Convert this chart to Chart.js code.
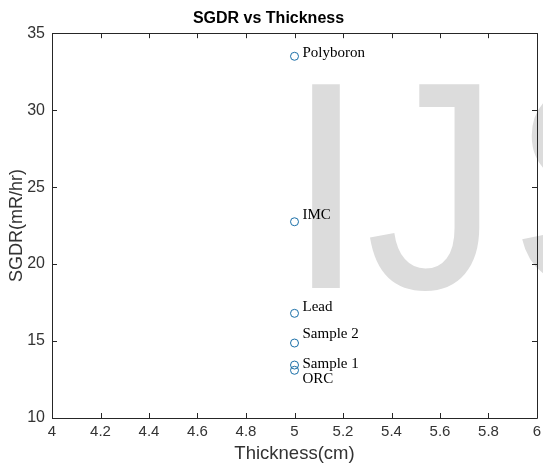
<!DOCTYPE html>
<html>
<head>
<meta charset="utf-8">
<script src="https://cdn.jsdelivr.net/npm/chart.js@4/dist/chart.umd.min.js"></script>
<style>
  html, body { margin: 0; padding: 0; background: #ffffff; }
  #wrap { width: 543px; height: 463px; }
</style>
</head>
<body>
<div id="wrap"><canvas id="c" width="543" height="463"></canvas></div>
<script>
// ---- data ----
const categories = ['Polyboron', 'IMC', 'Lead', 'Sample 2', 'Sample 1', 'ORC'];
const thickness = [5, 5, 5, 5, 5, 5];
const sgdr = [33.5, 22.75, 16.8, 14.87, 13.44, 13.1];
const xTicks = [4, 4.2, 4.4, 4.6, 4.8, 5, 5.2, 5.4, 5.6, 5.8, 6];
const yTicks = [10, 15, 20, 25, 30, 35];
const chartTitle = 'SGDR vs Thickness';
const xTitle = 'Thickness(cm)';
const yTitle = 'SGDR(mR/hr)';
const watermark = ['I', 'J', 'S'];

// ---- styles (not data) ----
const labelStyle = { font: '15px "Liberation Serif"', color: '#000000', dx: 8,
  dy: { 'Polyboron': 1, 'IMC': -3, 'Lead': -2, 'Sample 2': -5, 'Sample 1': 3, 'ORC': 13 } };
const wmStyle = { font: '296px "Liberation Sans"', color: '#dcdcdc', baseline: 288,
  lefts: [308, 370, 518], sx: [1, 0.9, 1] };
const axisColor = '#262626';
const tickColor = '#333333';

const points = thickness.map((x, i) => ({ x: x, y: sgdr[i] }));

const watermarkPlugin = {
  id: 'wm',
  beforeDraw(chart) {
    const ctx = chart.ctx;
    ctx.save();
    ctx.fillStyle = '#ffffff';
    ctx.fillRect(0, 0, chart.width, chart.height);
    ctx.font = wmStyle.font;
    ctx.fillStyle = wmStyle.color;
    ctx.textBaseline = 'alphabetic';
    ctx.textAlign = 'left';
    watermark.forEach((ch, i) => {
      const m = ctx.measureText(ch);
      const sx = wmStyle.sx[i];
      ctx.save();
      ctx.translate(wmStyle.lefts[i], wmStyle.baseline);
      ctx.scale(sx, 1);
      ctx.fillText(ch, m.actualBoundingBoxLeft, 0);
      ctx.restore();
    });
    ctx.restore();
  }
};

const boxPlugin = {
  id: 'box',
  afterDraw(chart) {
    const ctx = chart.ctx;
    const a = chart.chartArea;
    const xs = chart.scales.x, ys = chart.scales.y;
    const L = 5;
    ctx.save();
    ctx.strokeStyle = axisColor;
    ctx.lineWidth = 1;
    ctx.beginPath();
    ctx.rect(Math.round(a.left) + 0.5, Math.round(a.top) + 0.5,
             Math.round(a.right) - Math.round(a.left), Math.round(a.bottom) - Math.round(a.top));
    xTicks.forEach(v => {
      const px = Math.round(xs.getPixelForValue(v)) + 0.5;
      ctx.moveTo(px, a.bottom); ctx.lineTo(px, a.bottom - L);
      ctx.moveTo(px, a.top); ctx.lineTo(px, a.top + L);
    });
    yTicks.forEach(v => {
      const py = Math.round(ys.getPixelForValue(v)) + 0.5;
      ctx.moveTo(a.left, py); ctx.lineTo(a.left + L, py);
      ctx.moveTo(a.right, py); ctx.lineTo(a.right - L, py);
    });
    ctx.stroke();
    ctx.restore();
  }
};

const labelPlugin = {
  id: 'lbl',
  afterDatasetsDraw(chart) {
    const ctx = chart.ctx;
    const meta = chart.getDatasetMeta(0);
    ctx.save();
    ctx.font = labelStyle.font;
    ctx.fillStyle = labelStyle.color;
    ctx.textAlign = 'left';
    ctx.textBaseline = 'alphabetic';
    meta.data.forEach((el, i) => {
      const name = categories[i];
      ctx.fillText(name, el.x + labelStyle.dx, el.y + (labelStyle.dy[name] || 0));
    });
    ctx.restore();
  }
};

new Chart(document.getElementById('c'), {
  type: 'scatter',
  data: {
    datasets: [{
      label: 'SGDR',
      data: points,
      pointRadius: 4,
      pointHoverRadius: 4,
      pointBorderWidth: 1,
      pointBorderColor: '#1a6fa8',
      pointBackgroundColor: 'rgba(0,0,0,0)',
      showLine: false
    }]
  },
  options: {
    responsive: false,
    animation: false,
    events: [],
    layout: { padding: { left: 0, right: 6, top: 0, bottom: 0 } },
    plugins: {
      legend: { display: false },
      tooltip: { enabled: false },
      title: {
        display: true,
        text: chartTitle,
        color: '#000000',
        font: { family: '"Liberation Sans"', size: 16, weight: 'bold' },
        padding: { top: 9, bottom: 5 }
      }
    },
    scales: {
      x: {
        type: 'linear',
        min: 4, max: 6,
        afterBuildTicks(s) { s.ticks = xTicks.map(v => ({ value: v })); },
        afterFit(s) { s.height = 45; s.paddingRight = 0; s.paddingLeft = 0; },
        grid: { display: false, drawTicks: false },
        border: { display: false },
        ticks: {
          color: tickColor,
          font: { family: '"Liberation Sans"', size: 15 },
          padding: 5,
          maxRotation: 0,
          autoSkip: false,
          callback: (v) => String(Number(v.toFixed(1)))
        },
        title: {
          display: true,
          text: xTitle,
          color: tickColor,
          font: { family: '"Liberation Sans"', size: 18.5, lineHeight: 1 },
          padding: { top: 0, bottom: 0 }
        }
      },
      y: {
        type: 'linear',
        min: 10, max: 35,
        afterBuildTicks(s) { s.ticks = yTicks.map(v => ({ value: v })); },
        afterFit(s) { s.width = 52; },
        grid: { display: false, drawTicks: false },
        border: { display: false },
        ticks: {
          color: tickColor,
          font: { family: '"Liberation Sans"', size: 16 },
          padding: 7,
          autoSkip: false,
          callback: (v) => String(v)
        },
        title: {
          display: true,
          text: yTitle,
          color: tickColor,
          font: { family: '"Liberation Sans"', size: 18, lineHeight: 1 },
          padding: { top: 8, bottom: 0 }
        }
      }
    }
  },
  plugins: [watermarkPlugin, boxPlugin, labelPlugin]
});
</script>
</body>
</html>
